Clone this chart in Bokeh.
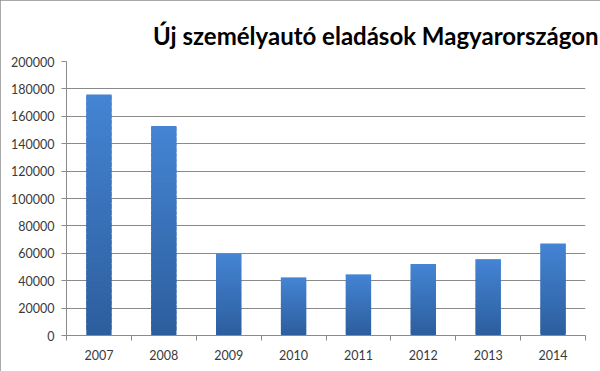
import numpy as np
from bokeh.plotting import figure
from bokeh.models import Range1d, FixedTicker, NumeralTickFormatter, ColumnDataSource
from bokeh.embed import file_html
from bokeh.resources import INLINE

# ---- data ----
years = ["2007", "2008", "2009", "2010", "2011", "2012", "2013", "2014"]
sales = [176000, 153000, 59600, 42300, 44500, 52200, 55700, 67200]
y_ticks = [0, 20000, 40000, 60000, 80000, 100000, 120000, 140000, 160000, 180000, 200000]
title_text = "Új személyautó eladások Magyarországon"

FONT = "Lato"
TEXT_COLOR = "#3a3a3a"
GRID = "#8a8a8a"
TOP_RGB = np.array([0x45, 0x85, 0xd4])
BOT_RGB = np.array([0x2d, 0x5e, 0x9e])

n = len(years)
centers = np.arange(n) + 0.5
bounds = np.arange(n + 1).astype(float)

p = figure(width=600, height=371, output_backend="svg", toolbar_location=None,
           x_range=Range1d(0, n), y_range=Range1d(0, 200000),
           min_border_left=66, min_border_right=15, min_border_top=61, min_border_bottom=36)
p.styles = {"outline": "2px solid #8e8e8e", "outline-offset": "-2px"}

# gradient bars: slices of each bar coloured by their height fraction
N = 40
xs, bots, tops, cols = [], [], [], []
for c, v in zip(centers, sales):
    edges = np.linspace(0, v, N + 1)
    for k in range(N):
        t = (k + 0.5) / N
        rgb = (BOT_RGB * (1 - t) + TOP_RGB * t).astype(int)
        xs.append(c)
        bots.append(edges[k])
        tops.append(min(edges[k + 1] + (v / N) * 0.8, v))
        cols.append("#%02x%02x%02x" % tuple(rgb))
src = ColumnDataSource(dict(x=xs, bottom=bots, top=tops, color=cols))
p.vbar(x="x", bottom="bottom", top="top", width=0.39, source=src,
       fill_color="color", line_color=None)

# title
p.title.text = title_text
p.title.align = "right"
p.title.offset = -13
p.title.text_font = FONT
p.title.text_font_style = "bold"
p.title.text_font_size = "24px"
p.title.text_color = "#000000"
p.title.standoff = 24

# y axis
p.yaxis.ticker = FixedTicker(ticks=y_ticks)
p.yaxis.formatter = NumeralTickFormatter(format="0")
p.yaxis.axis_line_color = GRID
p.yaxis.major_tick_line_color = GRID
p.yaxis.major_tick_out = 5
p.yaxis.major_tick_in = 0
p.yaxis.minor_tick_line_color = None
p.yaxis.major_label_standoff = 7
p.yaxis.major_label_text_font = FONT
p.yaxis.major_label_text_font_size = "12.5px"
p.yaxis.major_label_text_color = TEXT_COLOR

# x axis: labels at centres, tick marks at category boundaries
p.xaxis.ticker = FixedTicker(ticks=list(centers), minor_ticks=list(bounds))
p.xaxis.major_label_overrides = {float(c): y for c, y in zip(centers, years)}
p.xaxis.major_tick_line_color = None
p.xaxis.major_tick_out = 5
p.xaxis.minor_tick_line_color = GRID
p.xaxis.minor_tick_out = 5
p.xaxis.minor_tick_in = 0
p.xaxis.axis_line_color = GRID
p.xaxis.major_label_standoff = 9
p.xaxis.major_label_text_font = FONT
p.xaxis.major_label_text_font_size = "12.5px"
p.xaxis.major_label_text_color = TEXT_COLOR

p.xgrid.grid_line_color = None
p.ygrid.ticker = FixedTicker(ticks=y_ticks)
p.ygrid.grid_line_color = GRID
p.ygrid.grid_line_width = 1

p.outline_line_color = None
p.background_fill_color = "white"
p.border_fill_color = "white"

open("out.html", "w").write(file_html(p, INLINE))
